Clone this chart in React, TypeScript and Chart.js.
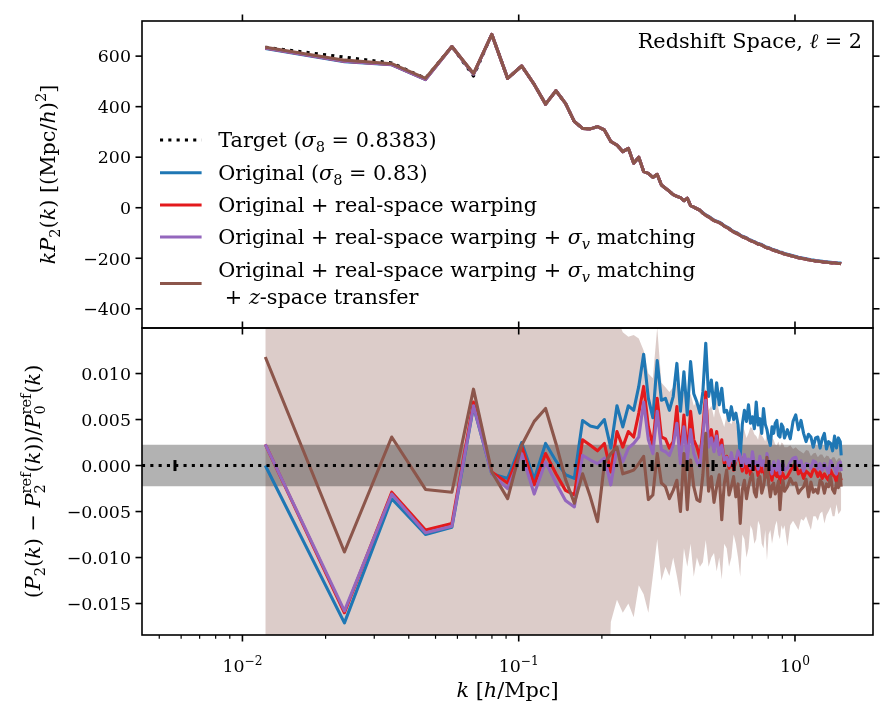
import { useEffect, useRef } from "react";
import { Chart, registerables } from "chart.js";

Chart.register(...registerables);

// ---------------------------------------------------------------------------
// Data
// ---------------------------------------------------------------------------

// k bin centres [h/Mpc]
const kBins = [
  0.0121, 0.0234, 0.0347, 0.046, 0.0573, 0.0686, 0.0799, 0.0912, 0.1025, 0.1138,
  0.1251, 0.1364, 0.1477, 0.159, 0.1703, 0.1816, 0.1929, 0.2042, 0.2155, 0.2268,
  0.2381, 0.2494, 0.2607, 0.272, 0.2833, 0.2946, 0.3059, 0.3172, 0.3285, 0.3398,
  0.3511, 0.3624, 0.3737, 0.385, 0.3963, 0.4076, 0.4189, 0.4302, 0.4415, 0.4528,
  0.4641, 0.4754, 0.4867, 0.498, 0.5093, 0.5206, 0.5319, 0.5432, 0.5545, 0.5658,
  0.5771, 0.5884, 0.5997, 0.611, 0.6223, 0.6336, 0.6449, 0.6562, 0.6675, 0.6788,
  0.6901, 0.7014, 0.7127, 0.724, 0.7353, 0.7466, 0.7579, 0.7692, 0.7805, 0.7918,
  0.8031, 0.8144, 0.8257, 0.837, 0.8483, 0.8596, 0.8709, 0.8822, 0.8935, 0.9048,
  0.9161, 0.9387, 0.9613, 0.9839, 1.0065, 1.0291, 1.0517, 1.0743, 1.0969, 1.1195,
  1.1421, 1.1647, 1.1873, 1.2099, 1.2325, 1.2551, 1.2777, 1.3003, 1.3229, 1.3455,
  1.3681, 1.3907, 1.4133, 1.4359, 1.4585, 1.4698,
];

// kP2(k) [(Mpc/h)^2]
const kP2Target = [
  635, 596, 573, 512, 638, 521, 686, 512, 561, 488,
  410, 463, 413, 341, 314, 312, 321, 308, 262, 248,
  222, 235, 176, 200, 143, 136, 120, 132, 90, 77,
  65, 52, 45, 40, 28, 38, 8, 2, -4, -10,
  -22, -30, -36, -44, -51, -55, -59, -65, -73, -78,
  -83, -90, -96, -100, -104, -110, -115, -118, -121, -126,
  -130, -133, -136, -140, -144, -146, -148, -152, -156, -158,
  -160, -163, -166, -168, -170, -172, -175, -177, -178, -181,
  -183, -186, -189, -192, -195, -198, -200, -202, -204, -206,
  -208, -209, -211, -212, -213, -214, -216, -216, -217, -218,
  -219, -219, -220, -221, -221, -222,
];
const kP2Original = [
  630, 578, 566, 507, 638, 528, 686, 512, 561, 488,
  410, 463, 413, 341, 314, 312, 321, 308, 262, 248,
  222, 235, 176, 200, 143, 136, 120, 132, 90, 77,
  65, 52, 45, 40, 28, 38, 8, 2, -4, -10,
  -20, -28, -34, -42, -49, -53, -57, -63, -71, -76,
  -81, -88, -94, -98, -102, -108, -113, -116, -119, -124,
  -128, -131, -134, -138, -142, -144, -146, -150, -154, -156,
  -158, -161, -164, -166, -168, -170, -173, -175, -176, -179,
  -181, -184, -187, -190, -193, -196, -198, -200, -202, -204,
  -206, -207, -209, -210, -211, -212, -214, -214, -215, -216,
  -217, -217, -218, -219, -219, -220,
];
const kP2Warped = [
  632, 580, 567, 508, 638, 529, 686, 512, 561, 488,
  410, 463, 413, 341, 314, 312, 321, 308, 262, 248,
  222, 235, 176, 200, 143, 136, 120, 132, 90, 77,
  65, 52, 45, 40, 28, 38, 8, 2, -4, -10,
  -22, -30, -36, -44, -51, -55, -59, -65, -73, -78,
  -83, -90, -96, -100, -104, -110, -115, -118, -121, -126,
  -130, -133, -136, -140, -144, -146, -148, -152, -156, -158,
  -160, -163, -166, -168, -170, -172, -175, -177, -178, -181,
  -183, -186, -189, -192, -195, -198, -200, -202, -204, -206,
  -208, -209, -211, -212, -213, -214, -216, -216, -217, -218,
  -219, -219, -220, -221, -221, -222,
];
const kP2SigmaV = [
  632, 580, 567, 508, 638, 529, 686, 512, 561, 488,
  410, 463, 413, 341, 314, 312, 321, 308, 262, 248,
  222, 235, 176, 200, 143, 136, 120, 132, 90, 77,
  65, 52, 45, 40, 28, 38, 8, 2, -4, -10,
  -22, -30, -36, -44, -51, -55, -59, -65, -73, -78,
  -83, -90, -96, -100, -104, -110, -115, -118, -121, -126,
  -130, -133, -136, -140, -144, -146, -148, -152, -156, -158,
  -160, -163, -166, -168, -170, -172, -175, -177, -178, -181,
  -183, -186, -189, -192, -195, -198, -200, -202, -204, -206,
  -208, -209, -211, -212, -213, -214, -216, -216, -217, -218,
  -219, -219, -220, -221, -221, -222,
];
const kP2Transfer = [
  635, 584, 570, 512, 638, 531, 686, 512, 561, 488,
  410, 463, 413, 341, 314, 312, 321, 308, 262, 248,
  222, 235, 176, 200, 143, 136, 120, 132, 90, 77,
  65, 52, 45, 40, 28, 38, 8, 2, -4, -10,
  -22, -30, -36, -44, -51, -55, -59, -65, -73, -78,
  -83, -90, -96, -100, -104, -110, -115, -118, -121, -126,
  -130, -133, -136, -140, -144, -146, -148, -152, -156, -158,
  -160, -163, -166, -168, -170, -172, -175, -177, -178, -181,
  -183, -186, -189, -192, -195, -198, -200, -202, -204, -206,
  -208, -209, -211, -212, -213, -214, -216, -216, -217, -218,
  -219, -219, -220, -221, -221, -222,
];

// (P2(k) - P2ref(k)) / P0ref(k), in units of 1e-3
const dOriginal = [
  0.0, -17.1, -3.6, -7.5, -6.7, 6.4, -0.9, -1.4, 2.5, -1.5,
  2.4, 0.5, -1.0, -1.4, 4.9, 4.3, 4.1, 5.0, 1.9, 6.5,
  4.2, 6.5, 6.0, 8.6, 12.1, 7.3, 5.2, 11.4, 7.1, 7.3,
  6.0, 7.5, 11.1, 5.9, 10.2, 5.5, 11.3, 7.8, 6.9, 5.7,
  8.0, 13.3, 7.5, 9.3, 6.2, 9.0, 6.6, 8.4, 5.8, 6.0,
  4.9, 6.4, 5.0, 5.7, 4.4, 1.1, 4.5, 6.0, 4.8, 6.6,
  4.6, 5.3, 4.0, 6.9, 4.4, 5.1, 3.5, 6.2, 4.5, 3.9,
  2.9, 2.2, 4.2, 3.5, 4.6, 4.9, 3.3, 3.1, 4.5, 4.2,
  3.0, 3.9, 2.9, 4.8, 5.5, 3.9, 4.9, 3.5, 2.6, 3.4,
  3.1, 2.0, 3.0, 3.1, 1.9, 2.9, 3.5, 1.8, 2.6, 2.4,
  1.6, 3.2, 1.9, 3.0, 2.6, 1.1,
];
const dWarped = [
  2.3, -16.0, -2.9, -7.0, -6.3, 6.9, -0.7, -1.9, 2.1, -2.1,
  1.3, -0.9, -2.7, -3.2, 2.8, 2.2, 1.6, 2.4, -0.7, 3.7,
  2.0, 3.7, 3.1, 5.7, 8.6, 4.2, 2.2, 7.3, 3.1, 2.9,
  1.9, 2.6, 6.4, 1.0, 5.5, 1.1, 5.9, 2.8, 2.0, 0.8,
  4.0, 8.0, 2.5, 3.9, 1.8, 3.7, 1.5, 2.8, 0.2, 1.0,
  -0.3, 0.8, -0.5, 0.6, 1.2, 0.4, -0.6, 1.0, -0.8, 0.2,
  -1.0, 0.8, -0.4, 0.1, -1.1, 0.4, -0.7, -0.1, -1.3, 0.6,
  -0.4, -0.9, -1.6, -0.5, -1.0, -1.2, -0.3, -1.9, -0.7, -0.9,
  -1.4, -1.2, -0.6, -0.1, 0.2, -0.9, -0.5, -1.4, -0.6, -0.85,
  -1.2, -0.4, -0.5, -1.2, -0.7, -1.4, -0.9, -1.3, -1.6, -0.5,
  -1.0, -1.2, -1.8, -0.9, -1.2, -1.6,
];
const dSigmaV = [
  2.3, -15.8, -3.1, -7.3, -6.6, 6.5, -0.9, -2.5, 1.3, -3.1,
  0.4, -1.9, -3.8, -4.5, 1.1, 0.6, 0.2, 0.8, -2.1, 1.9,
  0.4, 1.9, 2.4, 3.1, 6.9, 2.8, 1.3, 5.9, 1.7, 1.5,
  1.1, 2.2, 4.6, 0.2, 4.2, 0.6, 3.9, 1.3, 0.4, -0.1,
  3.2, 7.1, 2.0, 3.0, 1.5, 3.2, 1.2, 2.2, 0.6, 0.9,
  0.0, 1.4, 0.1, 0.6, 1.6, 1.0, -0.1, 1.2, 0.2, 0.7,
  -0.3, 1.5, 0.2, 0.4, -0.4, 1.0, 0.0, 0.5, -0.6, 1.3,
  0.2, -0.2, -0.9, 0.4, -0.3, -0.5, 0.5, -0.9, 0.1, 0.3,
  -0.5, -0.3, 0.4, 0.8, 0.9, 0.0, 0.5, -0.6, 0.2, 0.1,
  -0.3, 0.5, 0.4, -0.4, 0.2, -0.5, 0.2, -0.3, -0.8, 0.5,
  0.0, -0.3, -0.9, 0.2, 0.4, -0.6,
];
const dTransfer = [
  11.8, -9.4, 3.1, -2.6, -2.9, 8.3, -0.7, -3.6, 2.2, 4.8,
  6.2, 2.4, -1.5, -4.1, -0.9, -3.4, -6.1, 0.2, 1.3, 2.0,
  -0.9, -0.7, -0.5, 0.2, 1.0, -3.7, -3.2, 1.3, -1.9, -2.3,
  -3.6, -2.7, -1.6, -5.0, 1.3, -4.8, 0.6, -2.3, -3.7, -3.9,
  -1.0, 3.5, -2.8, -1.2, -4.0, -2.3, -1.0, -5.9, -2.0, -0.5,
  -3.2, -2.3, -1.2, -3.4, -2.0, -6.3, -2.6, -1.6, -3.6, -2.3,
  -1.4, -0.9, -2.9, -3.4, -1.5, -1.2, -3.0, -2.3, -1.0, 0.9,
  -2.0, -3.4, -2.2, -1.9, -3.1, -2.6, -1.7, -4.8, -2.5, -1.6,
  -2.8, -2.3, -1.4, -2.0, -1.9, -3.0, -2.6, -2.3, -1.5, -3.4,
  -1.8, -2.9, -2.6, -3.0, -1.6, -1.9, -3.0, -2.0, -2.3, -1.2,
  -2.6, -3.0, -1.9, -2.4, -0.9, -2.3,
];
// uncertainty envelope of the transferred spectrum, 1e-3
const dBandHi = [
  40, 40, 40, 40, 40, 40, 40, 40, 40, 40,
  40, 40, 40, 40, 40, 40, 40, 40, 40, 16,
  14.5, 14.0, 14.2, 13.8, 12.5, 10, 9.5, 15, 9, 8.5,
  8, 8.5, 9, 7.5, 8, 7, 7.8, 6.5, 7, 6,
  6.5, 8.5, 6.0, 6.5, 5.2, 7.2, 5.8, 5.0, 4.2, 5.5,
  4.8, 4.5, 5.2, 4.6, 4.0, 3.6, 4.3, 3.8, 3.0, 3.5,
  4.2, 4.0, 3.4, 3.2, 2.8, 3.9, 3.3, 3.0, 2.6, 3.5,
  2.9, 2.5, 3.0, 2.8, 2.3, 2.2, 2.6, 2.0, 2.5, 2.4,
  2.0, 2.0, 2.2, 1.8, 2.0, 1.7, 1.5, 1.3, 1.7, 1.6,
  1.0, 1.3, 1.4, 0.9, 1.2, 1.2, 0.8, 1.1, 1.0, 0.6,
  0.9, 0.9, 0.5, 0.8, 0.8, 0.4,
];
const dBandLo = [
  -40, -40, -40, -40, -40, -40, -40, -40, -40, -40,
  -40, -40, -40, -40, -40, -40, -40, -40, -17, -14.6,
  -16, -15, -16.5, -13, -14, -16, -12, -8, -12.5, -11,
  -12, -10, -12, -14.3, -9, -11, -8.5, -12.1, -10, -11,
  -10.5, -8.1, -11, -10, -9.5, -11.5, -10, -12.4, -8.5, -9,
  -11, -10, -7.5, -8.5, -10, -12.1, -7.5, -8, -10, -9,
  -6.5, -7, -8.5, -8, -6, -6.5, -8.5, -9, -7, -10.3,
  -7.5, -7, -8.5, -7.5, -6.5, -6, -7.5, -8, -6.5, -7,
  -6.5, -8.8, -6.5, -6, -6.5, -7, -5.8, -6, -5.5, -6.3,
  -7, -5.5, -5.5, -6, -5.2, -5, -6.3, -5.4, -5, -4.5,
  -5.5, -5.5, -4.2, -5.3, -5, -4.8,
];
const dTolerance = 2.26; // half-width of the grey band, 1e-3

// markers sitting on the zero line
const kMarks = [0.0057, 0.104, 0.204, 0.304, 0.407, 0.505, 0.602, 0.705, 0.805, 0.903, 1.0];

// axis limits
const K_MIN = 0.00433;
const K_MAX = 1.916;
const P_MIN = -476;
const P_MAX = 739;
const D_MIN = -18.42; // 1e-3
const D_MAX = 14.95; // 1e-3

// ticks
const kMajorTicks = [0.01, 0.1, 1];
const kMajorExps = ["−2", "−1", "0"];
const kMinorTicks = [
  0.005, 0.006, 0.007, 0.008, 0.009,
  0.02, 0.03, 0.04, 0.05, 0.06, 0.07, 0.08, 0.09,
  0.2, 0.3, 0.4, 0.5, 0.6, 0.7, 0.8, 0.9,
];
const pTicks = [600, 400, 200, 0, -200, -400];
const pTickLabels = ["600", "400", "200", "0", "−200", "−400"];
const dTicks = [10, 5, 0, -5, -10, -15]; // 1e-3
const dTickLabels = ["0.010", "0.005", "0.000", "−0.005", "−0.010", "−0.015"];

// ---------------------------------------------------------------------------
// Styling
// ---------------------------------------------------------------------------
const W = 896;
const H = 719;
const FAMILY = "'DejaVu Serif', serif";
const LABEL_FS = 20.8;
const TICK_FS = 17.4;
const LW = 3.1;
const DOT = [3.1, 5.2];
const MAJ = 6.5;
const MIN = 3.8;
const TW = 1.6;
const PAD = 4.5;

const BLACK = "#000000";
const BLUE = "#1f77b4";
const RED = "#e31a1c";
const PURPLE = "#9467bd";
const BROWN = "#8c564b";
const BAND = "rgba(140,86,75,0.3)";
const GREY = "rgba(0,0,0,0.3)";
const NONE = "rgba(0,0,0,0)";

// ---------------------------------------------------------------------------
// Rich (math-like) text
// ---------------------------------------------------------------------------
type Run = { t: string; it?: boolean; sub?: string; sup?: string; subIt?: boolean };

function fontStr(size: number, it?: boolean) {
  return `${it ? "italic " : ""}${size}px ${FAMILY}`;
}

function runWidth(ctx: CanvasRenderingContext2D, r: Run, size: number) {
  ctx.font = fontStr(size, r.it);
  const w = ctx.measureText(r.t).width;
  let ws = 0;
  const s = size * 0.7;
  if (r.sub) {
    ctx.font = fontStr(s, r.subIt);
    ws = Math.max(ws, ctx.measureText(r.sub).width);
  }
  if (r.sup) {
    ctx.font = fontStr(s);
    ws = Math.max(ws, ctx.measureText(r.sup).width);
  }
  return w + ws;
}

function drawRich(
  ctx: CanvasRenderingContext2D,
  runs: Run[],
  x: number,
  y: number,
  size: number,
  align: "left" | "center" | "right"
) {
  const total = runs.reduce((a, r) => a + runWidth(ctx, r, size), 0);
  let cx = align === "left" ? x : align === "right" ? x - total : x - total / 2;
  ctx.textAlign = "left";
  ctx.textBaseline = "alphabetic";
  ctx.fillStyle = BLACK;
  const s = size * 0.7;
  for (const r of runs) {
    ctx.font = fontStr(size, r.it);
    ctx.fillText(r.t, cx, y);
    cx += ctx.measureText(r.t).width;
    let ws = 0;
    if (r.sub) {
      ctx.font = fontStr(s, r.subIt);
      ctx.fillText(r.sub, cx, y + size * 0.22);
      ws = Math.max(ws, ctx.measureText(r.sub).width);
    }
    if (r.sup) {
      ctx.font = fontStr(s);
      ctx.fillText(r.sup, cx, y - size * 0.42);
      ws = Math.max(ws, ctx.measureText(r.sup).width);
    }
    cx += ws;
  }
}

function seg(ctx: CanvasRenderingContext2D, x1: number, y1: number, x2: number, y2: number, w: number, color = BLACK) {
  ctx.beginPath();
  ctx.moveTo(x1, y1);
  ctx.lineTo(x2, y2);
  ctx.lineWidth = w;
  ctx.strokeStyle = color;
  ctx.stroke();
}

// text pieces
const sigma8: Run = { t: "σ", it: true, sub: "8" };
const sigmaV: Run = { t: "σ", it: true, sub: "v", subIt: true };

const legendEntries: { color: string; dash: number[]; lines: Run[][] }[] = [
  { color: BLACK, dash: DOT, lines: [[{ t: "Target (" }, sigma8, { t: " = 0.8383)" }]] },
  { color: BLUE, dash: [], lines: [[{ t: "Original (" }, sigma8, { t: " = 0.83)" }]] },
  { color: RED, dash: [], lines: [[{ t: "Original + real-space warping" }]] },
  {
    color: PURPLE,
    dash: [],
    lines: [[{ t: "Original + real-space warping + " }, sigmaV, { t: " matching" }]],
  },
  {
    color: BROWN,
    dash: [],
    lines: [
      [{ t: "Original + real-space warping + " }, sigmaV, { t: " matching" }],
      [{ t: " + " }, { t: "z", it: true }, { t: "-space transfer" }],
    ],
  },
];
const legendRowY = [140, 172.7, 205, 237, 283.5];

const annotation: Run[] = [{ t: "Redshift Space, " }, { t: "ℓ", it: true }, { t: " = 2" }];

const topYTitle: Run[] = [
  { t: "k", it: true },
  { t: "P", it: true, sub: "2" },
  { t: "(" },
  { t: "k", it: true },
  { t: ") [(Mpc/" },
  { t: "h", it: true },
  { t: ")", sup: "2" },
  { t: "]" },
];
const botYTitle: Run[] = [
  { t: "(" },
  { t: "P", it: true, sub: "2" },
  { t: "(" },
  { t: "k", it: true },
  { t: ") − " },
  { t: "P", it: true, sub: "2", sup: "ref" },
  { t: "(" },
  { t: "k", it: true },
  { t: "))/" },
  { t: "P", it: true, sub: "0", sup: "ref" },
  { t: "(" },
  { t: "k", it: true },
  { t: ")" },
];
const xTitle: Run[] = [{ t: "k", it: true }, { t: " [" }, { t: "h", it: true }, { t: "/Mpc]" }];

// ---------------------------------------------------------------------------
// Chart helpers
// ---------------------------------------------------------------------------
const xy = (ys: number[], f = 1) => kBins.map((k, i) => ({ x: k, y: ys[i] * f }));
const flat = (v: number) => [
  { x: K_MIN, y: v },
  { x: K_MAX, y: v },
];

function lineSet(data: { x: number; y: number }[], color: string, order: number, extra: object = {}) {
  return {
    data,
    borderColor: color,
    backgroundColor: color,
    borderWidth: LW,
    borderJoinStyle: "round" as const,
    pointRadius: 0,
    tension: 0,
    fill: false,
    order,
    clip: 0,
    ...extra,
  };
}

function frame(ctx: CanvasRenderingContext2D, a: { left: number; right: number; top: number; bottom: number }) {
  ctx.lineWidth = TW;
  ctx.strokeStyle = BLACK;
  ctx.strokeRect(a.left, a.top, a.right - a.left, a.bottom - a.top);
}

const topDecor = {
  id: "topDecor",
  afterDraw(chart: Chart) {
    const { ctx, chartArea: a } = chart;
    const xs = chart.scales.x;
    const ys = chart.scales.y;
    ctx.save();
    for (const v of pTicks) {
      const py = ys.getPixelForValue(v);
      seg(ctx, a.left - MAJ, py, a.left, py, TW);
      seg(ctx, a.right, py, a.right + MAJ, py, TW);
    }
    for (const k of kMajorTicks) {
      const px = xs.getPixelForValue(k);
      seg(ctx, px, a.top - MAJ, px, a.top, TW);
      seg(ctx, px, a.bottom, px, a.bottom + MAJ, TW);
    }
    ctx.font = fontStr(TICK_FS);
    ctx.fillStyle = BLACK;
    ctx.textAlign = "right";
    ctx.textBaseline = "alphabetic";
    pTicks.forEach((v, i) => {
      ctx.fillText(pTickLabels[i], a.left - MAJ - PAD, ys.getPixelForValue(v) + TICK_FS * 0.36);
    });
    frame(ctx, a);

    // y-axis title
    ctx.save();
    ctx.translate(48, (a.top + a.bottom) / 2);
    ctx.rotate(-Math.PI / 2);
    drawRich(ctx, topYTitle, 0, 7, LABEL_FS, "center");
    ctx.restore();

    // legend (no frame)
    const hx0 = 160;
    const hx1 = hx0 + 2 * LABEL_FS;
    const tx = hx1 + 0.8 * LABEL_FS;
    legendEntries.forEach((e, i) => {
      const cy = legendRowY[i];
      ctx.save();
      ctx.setLineDash(e.dash);
      ctx.lineCap = "butt";
      seg(ctx, hx0, cy, hx1, cy, LW, e.color);
      ctx.restore();
      const n = e.lines.length;
      const step = 26.8;
      e.lines.forEach((runs, j) => {
        const ly = cy + (j - (n - 1) / 2) * step;
        drawRich(ctx, runs, tx, ly + 7.3, LABEL_FS, "left");
      });
    });

    // panel annotation
    drawRich(ctx, annotation, a.right - 11, a.top + 26.5, LABEL_FS, "right");
    ctx.restore();
  },
};

const botDecor = {
  id: "botDecor",
  afterDraw(chart: Chart) {
    const { ctx, chartArea: a } = chart;
    const xs = chart.scales.x;
    const ys = chart.scales.y;
    ctx.save();
    for (const v of dTicks) {
      const py = ys.getPixelForValue(v / 1000);
      seg(ctx, a.left - MAJ, py, a.left, py, TW);
      seg(ctx, a.right, py, a.right + MAJ, py, TW);
    }
    for (const k of kMajorTicks) {
      const px = xs.getPixelForValue(k);
      seg(ctx, px, a.top - MAJ, px, a.top, TW);
      seg(ctx, px, a.bottom, px, a.bottom + MAJ, TW);
    }
    for (const k of kMinorTicks) {
      const px = xs.getPixelForValue(k);
      seg(ctx, px, a.bottom, px, a.bottom + MIN, 1.2);
    }
    ctx.font = fontStr(TICK_FS);
    ctx.fillStyle = BLACK;
    ctx.textAlign = "right";
    ctx.textBaseline = "alphabetic";
    dTicks.forEach((v, i) => {
      ctx.fillText(dTickLabels[i], a.left - MAJ - PAD, ys.getPixelForValue(v / 1000) + TICK_FS * 0.36);
    });
    kMajorTicks.forEach((k, i) => {
      drawRich(ctx, [{ t: "10", sup: kMajorExps[i] }], xs.getPixelForValue(k), a.bottom + 37, TICK_FS, "center");
    });
    frame(ctx, a);

    // axis titles
    drawRich(ctx, xTitle, (a.left + a.right) / 2, a.bottom + 62, LABEL_FS, "center");
    ctx.save();
    ctx.translate(33, (a.top + a.bottom) / 2);
    ctx.rotate(-Math.PI / 2);
    drawRich(ctx, botYTitle, 0, 7, LABEL_FS, "center");
    ctx.restore();
    ctx.restore();
  },
};

function baseOptions(padTop: number, padBottom: number, yMin: number, yMax: number) {
  return {
    responsive: false,
    maintainAspectRatio: false,
    animation: false as const,
    devicePixelRatio: 1,
    events: [] as never[],
    layout: { padding: { left: 142, right: W - 873, top: padTop, bottom: padBottom } },
    plugins: { legend: { display: false }, tooltip: { enabled: false } },
    scales: {
      x: { type: "logarithmic" as const, min: K_MIN, max: K_MAX, display: false },
      y: { type: "linear" as const, min: yMin, max: yMax, display: false },
    },
  };
}

function topConfig() {
  return {
    type: "line" as const,
    data: {
      datasets: [
        lineSet(xy(kP2Transfer), BROWN, 0),
        lineSet(xy(kP2SigmaV), PURPLE, 1),
        lineSet(xy(kP2Warped), RED, 2),
        lineSet(xy(kP2Original), BLUE, 3),
        lineSet(xy(kP2Target), BLACK, 4, { borderDash: DOT, borderCapStyle: "butt" }),
      ],
    },
    options: baseOptions(21, H - 328, P_MIN, P_MAX),
    plugins: [topDecor],
  };
}

function botConfig() {
  const f = 1 / 1000;
  return {
    type: "line" as const,
    data: {
      datasets: [
        {
          data: kMarks.map((k) => ({ x: k, y: 0 })),
          showLine: false,
          pointStyle: "line",
          pointRotation: 90,
          pointRadius: 5.5,
          pointBorderWidth: 3,
          pointBorderColor: BLACK,
          pointBackgroundColor: BLACK,
          borderColor: BLACK,
          order: 0,
          clip: 0,
        },
        lineSet(flat(0), BLACK, 1, { borderDash: DOT, borderCapStyle: "butt" }),
        lineSet(xy(dTransfer, f), BROWN, 2),
        lineSet(xy(dSigmaV, f), PURPLE, 3),
        lineSet(xy(dWarped, f), RED, 4),
        lineSet(xy(dOriginal, f), BLUE, 5),
        lineSet(flat(dTolerance * f), NONE, 6, { borderWidth: 1, backgroundColor: GREY, fill: "+1" }),
        lineSet(flat(-dTolerance * f), NONE, 7, { borderWidth: 1 }),
        lineSet(xy(dBandHi, f), NONE, 8, { borderWidth: 1, backgroundColor: BAND, fill: "+1" }),
        lineSet(xy(dBandLo, f), NONE, 9, { borderWidth: 1 }),
      ],
    },
    options: baseOptions(328, H - 635, D_MIN * f, D_MAX * f),
    plugins: [botDecor],
  };
}

export default function App() {
  const topRef = useRef<HTMLCanvasElement>(null);
  const botRef = useRef<HTMLCanvasElement>(null);

  useEffect(() => {
    const bot = new Chart(botRef.current!, botConfig() as any);
    const top = new Chart(topRef.current!, topConfig() as any);
    return () => {
      top.destroy();
      bot.destroy();
    };
  }, []);

  return (
    <div style={{ position: "absolute", left: 0, top: 0, width: W, height: H, background: "#fff" }}>
      <canvas ref={botRef} width={W} height={H} style={{ position: "absolute", left: 0, top: 0 }} />
      <canvas ref={topRef} width={W} height={H} style={{ position: "absolute", left: 0, top: 0 }} />
    </div>
  );
}
